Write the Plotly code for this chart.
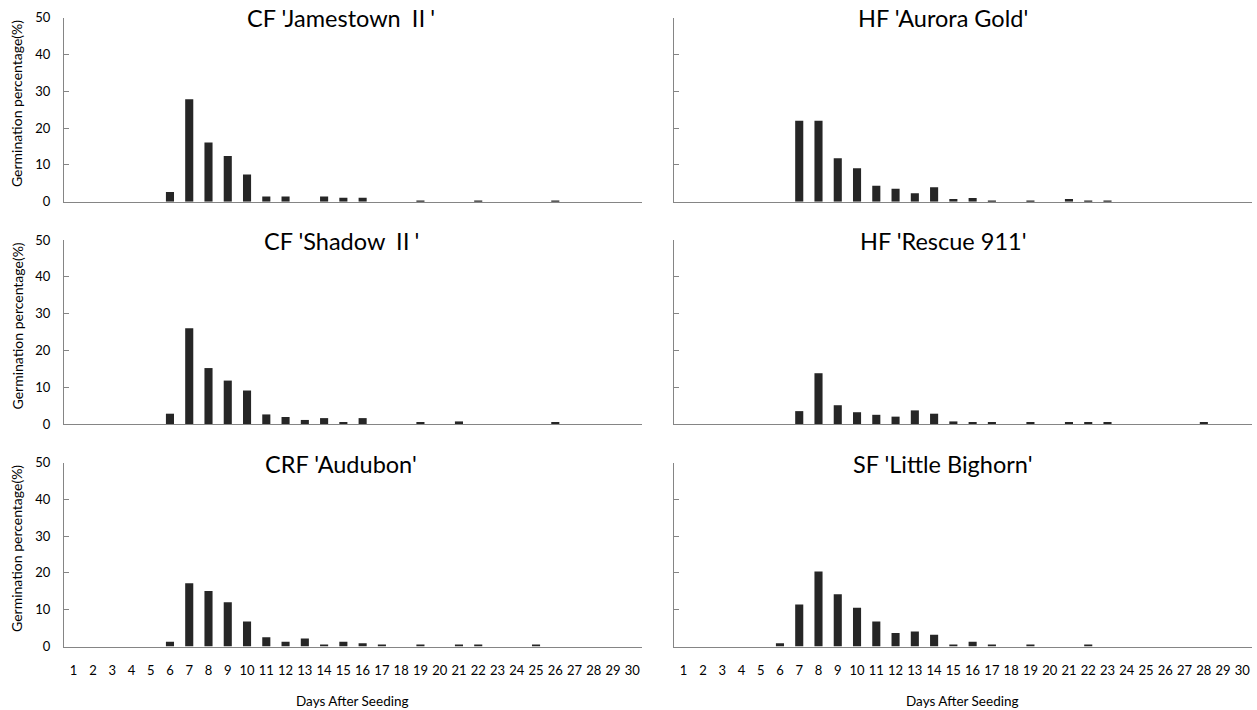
import plotly.graph_objects as go

days = list(range(1, 31))

titles = ["CF 'Jamestown Ⅱ'", "HF 'Aurora Gold'",
          "CF 'Shadow Ⅱ'", "HF 'Rescue 911'",
          "CRF 'Audubon'", "SF 'Little Bighorn'"]

def series(d):
    return [d.get(k, 0) for k in days]

cf_jamestown = series({6: 2.6, 7: 27.8, 8: 16.1, 9: 12.4, 10: 7.4, 11: 1.4, 12: 1.4,
                       14: 1.4, 15: 1.1, 16: 1.1, 19: 0.3, 22: 0.3, 26: 0.3})
hf_aurora = series({7: 22.0, 8: 22.0, 9: 11.8, 10: 9.1, 11: 4.3, 12: 3.5, 13: 2.3,
                    14: 3.9, 15: 0.7, 16: 1.0, 17: 0.3, 19: 0.3, 21: 0.7, 22: 0.3, 23: 0.3})
cf_shadow = series({6: 2.8, 7: 26.0, 8: 15.2, 9: 11.8, 10: 9.1, 11: 2.6, 12: 1.9,
                    13: 1.1, 14: 1.6, 15: 0.5, 16: 1.6, 19: 0.4, 21: 0.7, 26: 0.4})
hf_rescue = series({7: 3.5, 8: 13.8, 9: 5.1, 10: 3.2, 11: 2.5, 12: 2.0, 13: 3.7,
                    14: 2.8, 15: 0.7, 16: 0.4, 17: 0.4, 19: 0.4, 21: 0.4, 22: 0.4,
                    23: 0.4, 28: 0.4})
crf_audubon = series({6: 1.3, 7: 17.2, 8: 15.1, 9: 12.0, 10: 6.8, 11: 2.5, 12: 1.3,
                      13: 2.2, 14: 0.5, 15: 1.3, 16: 0.9, 17: 0.4, 19: 0.4, 21: 0.4,
                      22: 0.4, 25: 0.4})
sf_bighorn = series({6: 0.9, 7: 11.4, 8: 20.4, 9: 14.2, 10: 10.5, 11: 6.8, 12: 3.7,
                     13: 4.1, 14: 3.2, 15: 0.4, 16: 1.3, 17: 0.4, 19: 0.4, 22: 0.4})

values = [cf_jamestown, hf_aurora, cf_shadow, hf_rescue, crf_audubon, sf_bighorn]
y_ticks = [0, 10, 20, 30, 40, 50]
x_title = "Days After Seeding"
y_title = "Germination percentage(%)"

W, H = 1257, 710
FONT = "Lato, 'Noto Sans CJK SC', sans-serif"
AXIS_COLOR = "#858585"
BAR_COLOR = "#262626"

col_px = [(64, 642), (674, 1252)]
row_px = [(17.5, 201.7), (240, 424), (462.5, 646.5)]
title_x_px = [341, 943]
xtitle_x_px = [352, 962]

fig = go.Figure()
annotations = []
for i, vals in enumerate(values):
    r, c = divmod(i, 2)
    n = i + 1
    xa = "x" if n == 1 else f"x{n}"
    ya = "y" if n == 1 else f"y{n}"
    fig.add_trace(go.Bar(x=days, y=vals, width=0.42, marker_color=BAR_COLOR,
                         marker_line_width=0, xaxis=xa, yaxis=ya, showlegend=False))
    x0, x1 = col_px[c]
    top, bot = row_px[r]
    fig.layout[f"xaxis{'' if n == 1 else n}"] = dict(
        domain=[x0 / W, x1 / W], anchor=ya, range=[0.5, 30.5], automargin=False,
        tickvals=days, ticktext=[str(d) for d in days],
        showticklabels=(r == 2), ticks="", showline=True, linecolor=AXIS_COLOR,
        linewidth=1, showgrid=False, zeroline=False, ticklabelstandoff=12,
        tickfont=dict(family=FONT, size=13, color="#000000"))
    fig.layout[f"yaxis{'' if n == 1 else n}"] = dict(
        domain=[1 - bot / H, 1 - top / H], anchor=xa, range=[0, 50], automargin=False,
        tickvals=y_ticks, showticklabels=(c == 0), ticks="inside", ticklen=5,
        tickcolor=AXIS_COLOR, tickwidth=1, showline=True, linecolor=AXIS_COLOR,
        linewidth=1, showgrid=False, zeroline=False, ticklabelstandoff=10,
        tickfont=dict(family=FONT, size=13, color="#000000"))
    annotations.append(dict(text=titles[i], xref="paper", yref="paper",
                            x=title_x_px[c] / W, y=1 - (top + 1) / H, xanchor="center",
                            yanchor="middle", showarrow=False,
                            font=dict(family=FONT, size=23.5, color="#000000")))
    if c == 0:
        annotations.append(dict(text=y_title, xref="paper", yref="paper",
                                x=16.5 / W, y=1 - ((top + bot) / 2 - 6) / H, textangle=-90,
                                xanchor="center", yanchor="middle", showarrow=False,
                                font=dict(family=FONT, size=14, color="#000000")))
    if r == 2:
        annotations.append(dict(text=x_title, xref="paper", yref="paper",
                                x=xtitle_x_px[c] / W, y=1 - 701 / H,
                                xanchor="center", yanchor="middle", showarrow=False,
                                font=dict(family=FONT, size=13.5, color="#000000")))

fig.update_layout(width=W, height=H, margin=dict(l=0, r=0, t=0, b=0, pad=0),
                  template="none",
                  paper_bgcolor="white", plot_bgcolor="white",
                  annotations=annotations, bargap=0.5)
fig.write_html("out.html", config={"displayModeBar": False},
               post_script="document.body.style.margin='0';document.body.style.overflow='hidden';")
